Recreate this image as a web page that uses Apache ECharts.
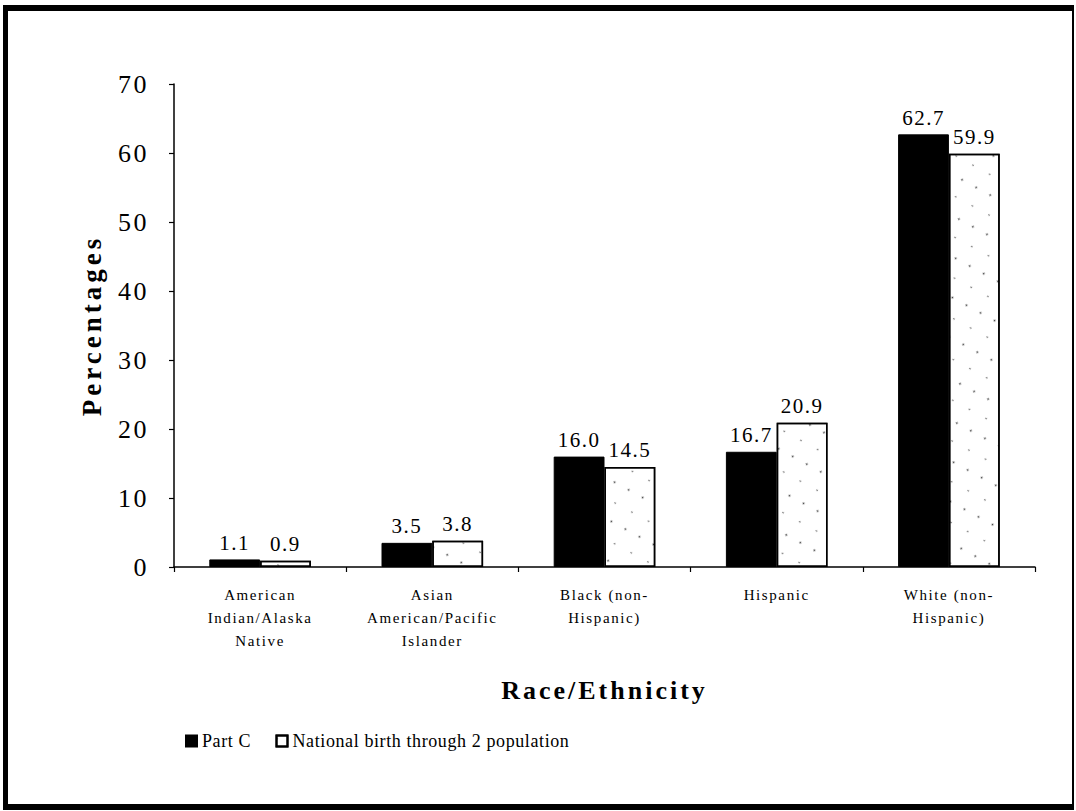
<!DOCTYPE html>
<html>
<head>
<meta charset="utf-8">
<script src="https://cdn.jsdelivr.net/npm/echarts@6/dist/echarts.min.js"></script>
<style>
  html, body { margin: 0; padding: 0; background: #fff; }
  #wrap { position: relative; width: 1076px; height: 811px; overflow: hidden; background: #fff; }
  #chart { position: absolute; left: 0; top: 0; width: 1076px; height: 811px; }
  #frame { position: absolute; left: 3px; top: 5px; width: 1071px; height: 805px; box-sizing: border-box;
           border-style: solid; border-color: #000; border-width: 6px 2px 6px 5px; pointer-events: none; }
  #chart text { font-family: 'Liberation Serif', 'Times New Roman', serif !important; }
  /* letter spacing of the original typeface, per text size */
  #chart text[style*="26px"] { letter-spacing: 2.5px; }
  #chart text[style*="21px"] { letter-spacing: 1.5px; }
  #chart text[style*="15px"] { letter-spacing: 1.6px; }
  #chart text[style*="18px"] { letter-spacing: 0.6px; }
  #chart text[style*="bold"][style*="26px"] { letter-spacing: 3px; }
  #chart text[style*="27px"] { letter-spacing: 4px; }
</style>
</head>
<body>
<div id="wrap"><div id="chart"></div><div id="frame"></div></div>
<script>
const categories = [
  'American\nIndian/Alaska\nNative',
  'Asian\nAmerican/Pacific\nIslander',
  'Black (non-\nHispanic)',
  'Hispanic',
  'White (non-\nHispanic)'
];
const partC = [1.1, 3.5, 16.0, 16.7, 62.7];
const nationalBirthThrough2 = [0.9, 3.8, 14.5, 20.9, 59.9];
const seriesNames = ['Part C', 'National birth through 2 population'];
const yTicks = { min: 0, max: 70, interval: 10 };

const serif = 'Liberation Serif, Times New Roman, serif';
const chart = echarts.init(document.getElementById('chart'), null, { renderer: 'svg' });

const labelStyle = {
  show: true, position: 'top', distance: 6,
  fontFamily: serif, fontSize: 21, color: '#000',
  formatter: p => p.value.toFixed(1)
};

chart.setOption({
  animation: false,
  backgroundColor: '#fff',
  grid: { left: 174, right: 41, top: 84, bottom: 244, containLabel: false },
  legend: {
    left: 180, top: 727,
    itemWidth: 11, itemHeight: 11, itemGap: 28,
    icon: 'rect',
    textStyle: { fontFamily: serif, fontSize: 18, color: '#000' },
    data: seriesNames
  },
  xAxis: {
    type: 'category',
    data: categories,
    name: 'Race/Ethnicity',
    nameLocation: 'middle',
    nameGap: 110,
    nameTextStyle: { fontFamily: serif, fontSize: 26, fontWeight: 'bold', color: '#000' },
    axisLine: { lineStyle: { color: '#000', width: 1.5 } },
    axisTick: { show: true, length: 5, lineStyle: { color: '#000', width: 1.2 } },
    axisLabel: {
      interval: 0, margin: 16,
      fontFamily: serif, fontSize: 15, color: '#000', lineHeight: 23
    }
  },
  yAxis: {
    type: 'value',
    min: yTicks.min, max: yTicks.max, interval: yTicks.interval,
    name: 'Percentages',
    nameLocation: 'middle',
    nameGap: 69,
    nameRotate: 90,
    nameTextStyle: { fontFamily: serif, fontSize: 27, fontWeight: 'bold', color: '#000' },
    axisLine: { show: true, lineStyle: { color: '#000', width: 1.5 } },
    axisTick: { show: true, length: 5, lineStyle: { color: '#000', width: 1.2 } },
    axisLabel: { margin: 25, fontFamily: serif, fontSize: 26, color: '#000' },
    splitLine: { show: false }
  },
  series: [
    {
      name: seriesNames[0],
      type: 'bar',
      data: partC,
      barGap: '0%',
      barCategoryGap: '41%',
      itemStyle: { color: '#000', borderColor: '#000', borderWidth: 1 },
      label: labelStyle
    },
    {
      name: seriesNames[1],
      type: 'bar',
      data: nationalBirthThrough2,
      barGap: '0%',
      barCategoryGap: '41%',
      itemStyle: {
        color: '#fff', borderColor: '#000', borderWidth: 1.5,
        decal: {
          symbol: 'circle', symbolSize: 0.35, color: 'rgba(0,0,0,0.75)',
          backgroundColor: '#fff',
          dashArrayX: [[5, 11], [4, 15]], dashArrayY: [5, 13], rotation: 0.5
        }
      },
      label: labelStyle
    }
  ]
});
</script>
</body>
</html>
